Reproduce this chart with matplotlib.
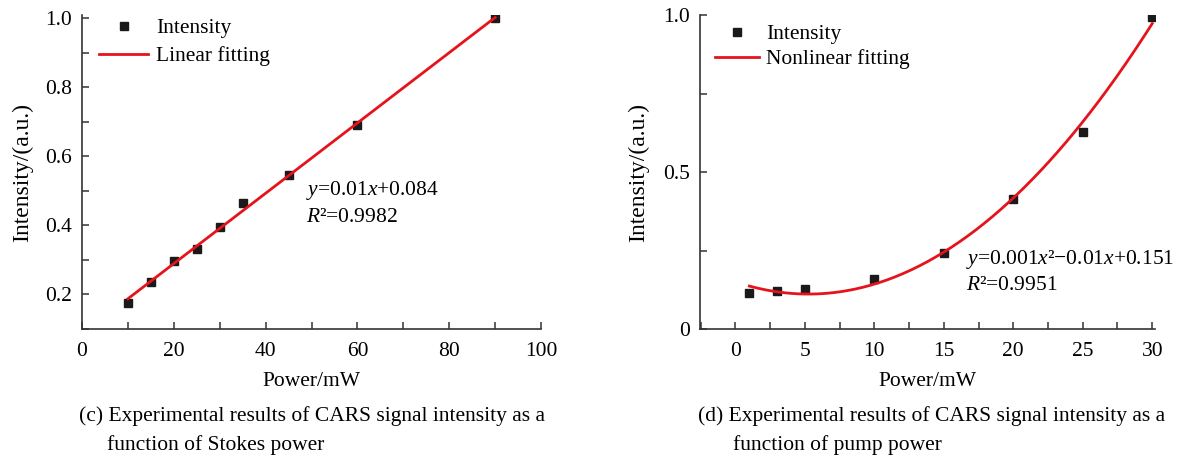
import matplotlib
matplotlib.use('Agg')
import numpy as np
import matplotlib.pyplot as plt
from matplotlib.ticker import MultipleLocator

plt.rcParams['font.family'] = ['Liberation Serif', 'DejaVu Serif']
plt.rcParams['mathtext.fontset'] = 'custom'
plt.rcParams['mathtext.rm'] = 'Liberation Serif'
plt.rcParams['mathtext.it'] = 'Liberation Serif:italic'

# (c) Stokes power
stokes_power = [10, 15, 20, 25, 30, 35, 45, 60, 90]
stokes_intensity = [0.176, 0.236, 0.296, 0.331, 0.396, 0.464, 0.545, 0.690, 1.0]

# (d) pump power
pump_power = [1, 3, 5, 10, 15, 20, 25, 30]
pump_intensity = [0.115, 0.122, 0.128, 0.160, 0.243, 0.414, 0.627, 0.995]

fs = 15.5
red = '#e5141c'
dark = '#1a1a1a'

fig = plt.figure(figsize=(11.79, 4.59), dpi=100)
ax1 = fig.add_axes([82 / 1179, 1 - 329 / 459, (541 - 82) / 1179, 314 / 459])
ax2 = fig.add_axes([700 / 1179, 1 - 329 / 459, (1155 - 700) / 1179, 314 / 459])

# linear fit
c1 = np.polyfit(stokes_power, stokes_intensity, 1)
xf1 = np.linspace(min(stokes_power), max(stokes_power), 100)
ax1.plot(stokes_power, stokes_intensity, 's', color=dark, ms=5.3, label='Intensity', zorder=2)
ax1.plot(xf1, np.polyval(c1, xf1), '-', color=red, lw=2, label='Linear fitting', zorder=3)
ax1.set_xlim(0, 100)
ax1.set_ylim(0.1, 1.01)
ax1.xaxis.set_major_locator(MultipleLocator(20))
ax1.xaxis.set_minor_locator(MultipleLocator(10))
ax1.yaxis.set_major_locator(MultipleLocator(0.2))
ax1.yaxis.set_minor_locator(MultipleLocator(0.1))
ax1.yaxis.set_major_formatter(plt.FuncFormatter(lambda v, p: f'{v:.1f}'))
ax1.text(0.489, 0.442, r'$\mathit{y}$=0.01$\mathit{x}$+0.084', transform=ax1.transAxes,
         fontsize=fs, va='center', ha='left')
ax1.text(0.489, 0.356, r'$\mathit{R}$²=0.9982', transform=ax1.transAxes,
         fontsize=fs, va='center', ha='left')

# quadratic fit
c2 = np.polyfit(pump_power, pump_intensity, 2)
xf2 = np.linspace(min(pump_power), max(pump_power), 200)
ax2.plot(pump_power, pump_intensity, 's', color=dark, ms=5.3, label='Intensity', zorder=2)
ax2.plot(xf2, np.polyval(c2, xf2), '-', color=red, lw=2, label='Nonlinear fitting', zorder=3)
ax2.set_xlim(-2.55, 30.2)
ax2.set_ylim(0, 1.0)
ax2.xaxis.set_major_locator(MultipleLocator(5))
ax2.xaxis.set_minor_locator(MultipleLocator(2.5))
ax2.yaxis.set_major_locator(MultipleLocator(0.5))
ax2.yaxis.set_minor_locator(MultipleLocator(0.25))
ax2.yaxis.set_major_formatter(plt.FuncFormatter(lambda v, p: '0' if v == 0 else f'{v:.1f}'))
ax2.text(0.585, 0.22, r'$\mathit{y}$=0.001$\mathit{x}$²−0.01$\mathit{x}$+0.151', transform=ax2.transAxes,
         fontsize=fs, va='center', ha='left')
ax2.text(0.585, 0.137, r'$\mathit{R}$²=0.9951', transform=ax2.transAxes,
         fontsize=fs, va='center', ha='left')

for ax in (ax1, ax2):
    for s in ('top', 'right'):
        ax.spines[s].set_visible(False)
    for s in ('left', 'bottom'):
        ax.spines[s].set_linewidth(1.2)
        ax.spines[s].set_color('#333333')
    ax.tick_params(which='both', direction='in', length=5, width=1.1, color='#333333',
                   labelsize=fs)
    ax.tick_params(axis='x', pad=9)
    ax.tick_params(axis='y', pad=7)
    ax.set_xlabel('Power/mW', fontsize=fs, labelpad=8)
    ax.set_ylabel('Intensity/(a.u.)', fontsize=17, labelpad=9)

ax1.legend(loc='upper left', frameon=False, fontsize=fs, handlelength=2.3,
           handletextpad=0.35, labelspacing=0.38, borderpad=0, borderaxespad=0,
           bbox_to_anchor=(0.037, 0.99))
ax2.legend(loc='upper left', frameon=False, fontsize=fs, handlelength=2.05,
           handletextpad=0.33, labelspacing=0.22, borderpad=0, borderaxespad=0,
           bbox_to_anchor=(0.033, 0.97))
ax2.yaxis.labelpad = 10

fig.text(79 / 1179, 1 - 416 / 459, '(c) Experimental results of CARS signal intensity as a',
         fontsize=fs, va='center', ha='left')
fig.text(107 / 1179, 1 - 445 / 459, 'function of Stokes power', fontsize=fs, va='center', ha='left')
fig.text(698 / 1179, 1 - 416 / 459, '(d) Experimental results of CARS signal intensity as a',
         fontsize=fs, va='center', ha='left')
fig.text(733 / 1179, 1 - 445 / 459, 'function of pump power', fontsize=fs, va='center', ha='left')

fig.savefig('out.png', dpi=100)
